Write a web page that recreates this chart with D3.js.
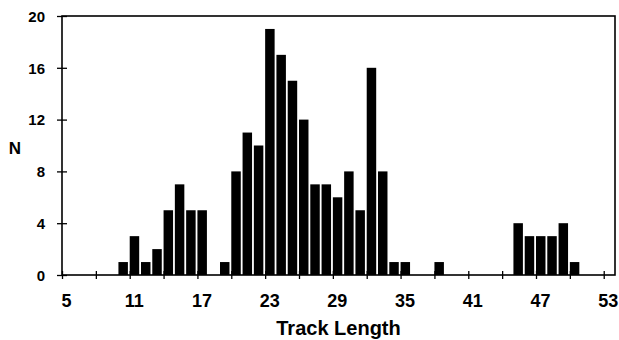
<!DOCTYPE html>
<html>
<head>
<meta charset="utf-8">
<script src="https://cdn.jsdelivr.net/npm/d3@7"></script>
<style>
  body { margin: 0; background: #fff; }
  text { font-family: "Liberation Sans", Arial, sans-serif; font-weight: bold; fill: #000; }
</style>
</head>
<body>
<svg id="hist" width="619" height="340"></svg>
<script>
// data: track length bins and counts
const trackLength = [10, 11, 12, 13, 14, 15, 16, 17, 18, 19, 20, 21, 22, 23, 24, 25, 26, 27, 28, 29,
                     30, 31, 32, 33, 34, 35, 36, 37, 38, 39, 40, 41, 42, 43, 44, 45, 46, 47, 48, 49, 50];
const counts = [1, 3, 1, 2, 5, 7, 5, 5, 0, 1, 8, 11, 10, 19, 17, 15, 12, 7, 7, 6,
                8, 5, 16, 8, 1, 1, 0, 0, 1, 0, 0, 0, 0, 0, 0, 4, 3, 3, 3, 4, 1];
const xTicks = [5, 8, 11, 14, 17, 20, 23, 26, 29, 32, 35, 38, 41, 44, 47, 50, 53];
const xLabels = [5, 11, 17, 23, 29, 35, 41, 47, 53];
const yTicks = [0, 4, 8, 12, 16, 20];

const svg = d3.select("#hist"),
    margin = {top: 16, right: 4, bottom: 65, left: 62},
    width = +svg.attr("width") - margin.left - margin.right,
    height = +svg.attr("height") - margin.top - margin.bottom;

const x = d3.scaleLinear().domain([5, 54]).range([0, width]);
const y = d3.scaleLinear().domain([0, 20]).range([height, 0]);

const g = svg.append("g")
    .attr("transform", "translate(" + margin.left + "," + margin.top + ")");

const data = trackLength.map(function(d, i) { return {len: d, n: counts[i]}; })
    .filter(function(d) { return d.n > 0; });

g.append("g")
    .attr("class", "bars")
  .selectAll("rect")
    .data(data)
  .enter().append("rect")
    .attr("x", function(d) { return x(d.len); })
    .attr("width", x(5.84) - x(5))
    .attr("y", function(d) { return y(d.n); })
    .attr("height", function(d) { return y(0) - y(d.n); })
    .style("fill", "#000");

// frame
g.append("rect")
    .attr("width", width)
    .attr("height", height)
    .style("fill", "none")
    .style("stroke", "#000")
    .style("stroke-width", 1.6);

// x axis
const xAxis = g.append("g")
    .attr("transform", "translate(0," + height + ")")
    .call(d3.axisBottom(x).tickValues(xTicks).tickSize(4)
      .tickFormat(function(d) { return xLabels.indexOf(d) >= 0 ? d : ""; }));
xAxis.select(".domain").remove();
xAxis.selectAll(".tick line").attr("y1", -4).attr("stroke-width", 1.3);
xAxis.selectAll(".tick text")
    .attr("y", 0).attr("dy", 32).attr("dx", 4)
    .style("font-size", "18px");

// y axis
const yAxis = g.append("g")
    .call(d3.axisLeft(y).tickValues(yTicks).tickSize(5));
yAxis.select(".domain").remove();
yAxis.selectAll(".tick line").attr("x1", 5).attr("stroke-width", 1.3);
yAxis.selectAll(".tick text")
    .attr("x", -17).attr("dy", "0.35em")
    .style("font-size", "15px");

// axis titles
svg.append("text")
    .attr("x", 15)
    .attr("y", 154)
    .attr("text-anchor", "middle")
    .style("font-size", "17px")
    .text("N");

svg.append("text")
    .attr("x", margin.left + width / 2)
    .attr("y", 335)
    .attr("text-anchor", "middle")
    .style("font-size", "20px")
    .text("Track Length");
</script>
</body>
</html>
